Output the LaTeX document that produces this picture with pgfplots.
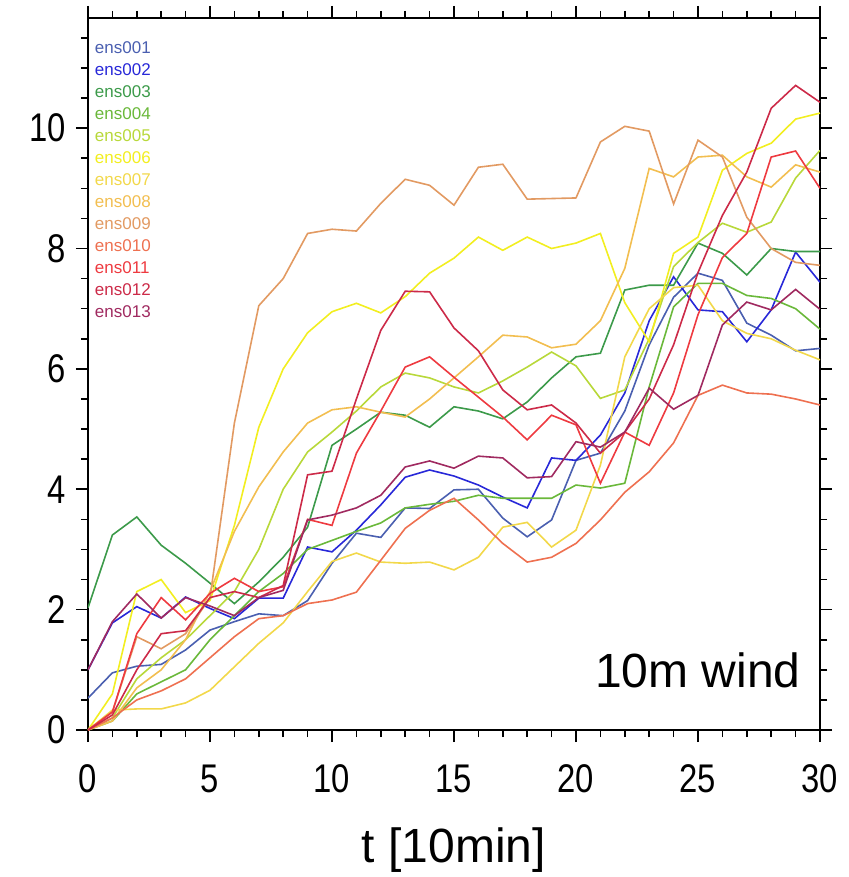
\documentclass[border=0pt]{standalone}
\usepackage{pgfplots}
\usepackage{pgfplotstable}
\pgfplotsset{compat=1.18}
\usepackage{fontspec}
\setmainfont{Liberation Sans}
\definecolor{c1}{HTML}{4A5FB0}
\definecolor{c2}{HTML}{2828D8}
\definecolor{c3}{HTML}{3C9A4A}
\definecolor{c4}{HTML}{6AB83A}
\definecolor{c5}{HTML}{B8D83A}
\definecolor{c6}{HTML}{F2EE20}
\definecolor{c7}{HTML}{F2D84A}
\definecolor{c8}{HTML}{F2BE50}
\definecolor{c9}{HTML}{E29A62}
\definecolor{c10}{HTML}{EE7050}
\definecolor{c11}{HTML}{EE3A40}
\definecolor{c12}{HTML}{CC2A48}
\definecolor{c13}{HTML}{A02A60}
\pgfplotstableread{
t e1 e2 e3 e4 e5 e6 e7 e8 e9 e10 e11 e12 e13
0 0.53 1.00 2.03 0 0 0 0 0 0 0 0 0 1.00
1 0.95 1.78 3.24 0.15 0.20 0.60 0.33 0.15 0.30 0.20 0.30 0.25 1.80
2 1.06 2.05 3.54 0.60 0.85 2.30 0.35 0.70 1.55 0.50 1.60 1.00 2.26
3 1.09 1.86 3.07 0.80 1.20 2.50 0.35 1.00 1.35 0.65 2.20 1.60 1.86
4 1.33 2.21 2.77 1.00 1.50 1.95 0.45 1.50 1.60 0.85 1.83 1.65 2.20
5 1.66 2.02 2.44 1.50 1.90 2.15 0.66 2.30 2.20 1.20 2.27 2.20 2.06
6 1.80 1.85 2.10 1.90 2.30 3.40 1.05 3.30 5.10 1.55 2.52 2.30 1.90
7 1.93 2.19 2.46 2.30 3.00 5.03 1.44 4.04 7.05 1.85 2.30 2.20 2.20
8 1.90 2.19 2.87 2.60 4.00 6.00 1.78 4.62 7.50 1.90 2.38 2.40 2.32
9 2.15 3.04 3.37 3.00 4.62 6.60 2.30 5.10 8.25 2.10 3.50 4.24 3.49
10 2.77 2.96 4.73 3.15 4.95 6.95 2.80 5.32 8.32 2.16 3.40 4.30 3.57
11 3.27 3.32 5.00 3.30 5.30 7.09 2.94 5.37 8.29 2.29 4.60 5.50 3.69
12 3.20 3.74 5.28 3.44 5.70 6.93 2.79 5.28 8.75 2.82 5.30 6.64 3.90
13 3.69 4.20 5.23 3.69 5.93 7.20 2.77 5.20 9.15 3.35 6.03 7.29 4.37
14 3.68 4.32 5.03 3.75 5.85 7.59 2.79 5.50 9.05 3.65 6.20 7.28 4.47
15 3.99 4.22 5.37 3.80 5.70 7.84 2.66 5.85 8.72 3.85 5.86 6.68 4.35
16 4.00 4.07 5.30 3.90 5.60 8.19 2.87 6.20 9.35 3.49 5.53 6.30 4.55
17 3.52 3.87 5.17 3.85 5.80 7.97 3.37 6.56 9.40 3.10 5.20 5.65 4.52
18 3.21 3.69 5.45 3.85 6.03 8.19 3.45 6.53 8.82 2.79 4.82 5.32 4.19
19 3.49 4.52 5.85 3.85 6.28 8.00 3.04 6.35 8.83 2.87 5.23 5.40 4.21
20 4.48 4.48 6.20 4.07 6.05 8.09 3.32 6.41 8.84 3.10 5.07 5.10 4.79
21 4.60 4.90 6.26 4.02 5.51 8.25 4.40 6.80 9.77 3.49 4.10 4.60 4.70
22 5.30 5.60 7.31 4.10 5.65 7.10 6.20 7.67 10.03 3.95 4.95 4.95 4.95
23 6.40 6.80 7.39 5.70 6.50 6.45 7.00 9.33 9.95 4.29 4.73 5.50 5.68
24 7.19 7.53 7.39 7.03 7.70 7.92 7.35 9.19 8.74 4.77 5.60 6.40 5.33
25 7.59 6.98 8.09 7.42 8.10 8.19 7.39 9.52 9.80 5.56 6.90 7.60 5.56
26 7.47 6.95 7.92 7.42 8.42 9.30 6.80 9.55 9.52 5.73 7.85 8.55 6.73
27 6.76 6.45 7.56 7.22 8.27 9.58 6.59 9.19 8.52 5.60 8.25 9.27 7.11
28 6.56 6.98 8.00 7.17 8.44 9.75 6.50 9.02 8.00 5.58 9.52 10.33 6.98
29 6.30 7.94 7.95 7.00 9.17 10.15 6.31 9.39 7.77 5.50 9.62 10.71 7.32
30 6.34 7.44 7.95 6.66 9.63 10.25 6.15 9.27 7.72 5.40 9.00 10.43 6.99
}\ensdata
\begin{document}
\begin{tikzpicture}
\useasboundingbox (-44pt,-73.5pt) rectangle (380pt,365pt);
\begin{axis}[
  scale only axis, width=366pt, height=356pt,
  xmin=0, xmax=30, ymin=0, ymax=11.83,
  xtick={0,5,...,30}, ytick={0,2,...,12},
  yticklabels={0,2,4,6,8,10,},
  minor x tick num=4, minor y tick num=3,
  tick align=outside, tick pos=both,
  major tick length=6pt, minor tick length=3.5pt,
  axis line style={line width=1pt},
  every tick/.style={black, line width=0.8pt},
  tick label style={font=\fontsize{20}{20}\selectfont, xscale=0.82},
  xticklabel style={yshift=-8pt},
  yticklabel style={xshift=-2.5pt},
  /pgf/number format/assume math mode=true,
  xlabel={t [10min]},
  xlabel style={font=\fontsize{24}{24}\selectfont, at={(axis description cs:0.5,0)}, anchor=center, yshift=-60pt},
  every axis plot/.append style={line width=0.8pt, mark=none},
  clip=true,
]
\addplot[c1] table[x=t, y=e1] {\ensdata};
\addplot[c2] table[x=t, y=e2] {\ensdata};
\addplot[c3] table[x=t, y=e3] {\ensdata};
\addplot[c4] table[x=t, y=e4] {\ensdata};
\addplot[c5] table[x=t, y=e5] {\ensdata};
\addplot[c6] table[x=t, y=e6] {\ensdata};
\addplot[c7] table[x=t, y=e7] {\ensdata};
\addplot[c8] table[x=t, y=e8] {\ensdata};
\addplot[c9] table[x=t, y=e9] {\ensdata};
\addplot[c10] table[x=t, y=e10] {\ensdata};
\addplot[c11] table[x=t, y=e11] {\ensdata};
\addplot[c12] table[x=t, y=e12] {\ensdata};
\addplot[c13] table[x=t, y=e13] {\ensdata};
\node[anchor=base east, font=\fontsize{24}{24}\selectfont] at (axis cs:29.5,0.7) {10m wind};
\node[anchor=west, text=c1, font=\fontsize{8.5}{8.5}\selectfont, inner sep=0pt] at (rel axis cs:0.009,0.959) {ens001};
\node[anchor=west, text=c2, font=\fontsize{8.5}{8.5}\selectfont, inner sep=0pt] at (rel axis cs:0.009,0.928) {ens002};
\node[anchor=west, text=c3, font=\fontsize{8.5}{8.5}\selectfont, inner sep=0pt] at (rel axis cs:0.009,0.897) {ens003};
\node[anchor=west, text=c4, font=\fontsize{8.5}{8.5}\selectfont, inner sep=0pt] at (rel axis cs:0.009,0.866) {ens004};
\node[anchor=west, text=c5, font=\fontsize{8.5}{8.5}\selectfont, inner sep=0pt] at (rel axis cs:0.009,0.835) {ens005};
\node[anchor=west, text=c6, font=\fontsize{8.5}{8.5}\selectfont, inner sep=0pt] at (rel axis cs:0.009,0.804) {ens006};
\node[anchor=west, text=c7, font=\fontsize{8.5}{8.5}\selectfont, inner sep=0pt] at (rel axis cs:0.009,0.773) {ens007};
\node[anchor=west, text=c8, font=\fontsize{8.5}{8.5}\selectfont, inner sep=0pt] at (rel axis cs:0.009,0.742) {ens008};
\node[anchor=west, text=c9, font=\fontsize{8.5}{8.5}\selectfont, inner sep=0pt] at (rel axis cs:0.009,0.711) {ens009};
\node[anchor=west, text=c10, font=\fontsize{8.5}{8.5}\selectfont, inner sep=0pt] at (rel axis cs:0.009,0.680) {ens010};
\node[anchor=west, text=c11, font=\fontsize{8.5}{8.5}\selectfont, inner sep=0pt] at (rel axis cs:0.009,0.649) {ens011};
\node[anchor=west, text=c12, font=\fontsize{8.5}{8.5}\selectfont, inner sep=0pt] at (rel axis cs:0.009,0.618) {ens012};
\node[anchor=west, text=c13, font=\fontsize{8.5}{8.5}\selectfont, inner sep=0pt] at (rel axis cs:0.009,0.587) {ens013};
\end{axis}
\end{tikzpicture}
\end{document}
